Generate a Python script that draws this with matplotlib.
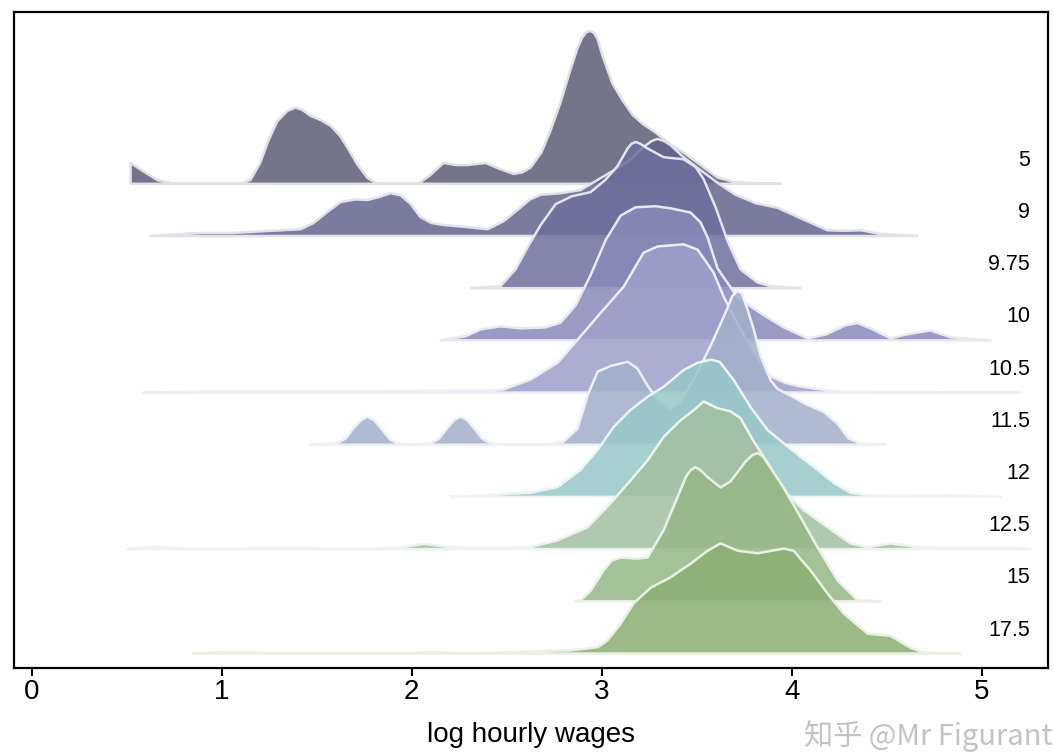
import matplotlib
matplotlib.use("Agg")
import matplotlib.pyplot as plt
import matplotlib.colors as mcolors
import numpy as np

plt.rcParams['font.family'] = ['Liberation Sans', 'DejaVu Sans']

# groups (top to bottom) and ridge heights
groups = ["5", "9", "9.75", "10", "10.5", "11.5", "12", "12.5", "15", "17.5"]

x_5 = [0.518, 0.58, 0.66, 0.75, 1.10, 1.15, 1.20, 1.24, 1.29, 1.344, 1.386, 1.42, 1.466, 1.52,
       1.571, 1.62, 1.66, 1.71, 1.765, 1.818, 2.03, 2.09, 2.165, 2.23, 2.292, 2.386, 2.45, 2.534,
       2.58, 2.623, 2.68, 2.728, 2.78, 2.83, 2.87, 2.895, 2.915, 2.935, 2.955, 2.975, 3.002,
       3.054, 3.107, 3.16, 3.213, 3.282, 3.36, 3.428, 3.518, 3.607, 3.70, 3.81, 3.94]
h_5 = [0.40, 0.25, 0.07, 0.0, 0.0, 0.08, 0.40, 0.80, 1.20, 1.40, 1.46, 1.42, 1.30, 1.22,
       1.11, 0.92, 0.69, 0.38, 0.11, 0.0, 0.0, 0.15, 0.40, 0.36, 0.36, 0.40, 0.30, 0.19,
       0.22, 0.31, 0.60, 1.02, 1.55, 2.15, 2.60, 2.80, 2.90, 2.93, 2.90, 2.78, 2.45,
       1.92, 1.60, 1.32, 1.15, 0.98, 0.75, 0.60, 0.36, 0.12, 0.03, 0.01, 0.0]

x_9 = [0.623, 0.886, 1.06, 1.413, 1.481, 1.55, 1.623, 1.70, 1.765, 1.83, 1.886, 1.939, 1.99,
       2.044, 2.10, 2.165, 2.292, 2.397, 2.48, 2.555, 2.62, 2.676, 2.781, 2.886, 2.992, 3.081,
       3.147, 3.213, 3.26, 3.291, 3.325, 3.36, 3.428, 3.518, 3.607, 3.702, 3.807, 3.923, 4.044,
       4.186, 4.281, 4.36, 4.465, 4.66]
h_9 = [0.0, 0.06, 0.06, 0.13, 0.25, 0.45, 0.65, 0.70, 0.69, 0.75, 0.82, 0.78, 0.62,
       0.36, 0.25, 0.21, 0.17, 0.13, 0.28, 0.50, 0.70, 0.79, 0.82, 0.88, 1.11, 1.30,
       1.46, 1.69, 1.82, 1.86, 1.82, 1.74, 1.51, 1.26, 1.02, 0.79, 0.63, 0.54, 0.34,
       0.11, 0.10, 0.11, 0.04, 0.0]

x_975 = [2.307, 2.465, 2.544, 2.61, 2.676, 2.755, 2.839, 2.939, 3.018, 3.081, 3.134, 3.155,
         3.176, 3.20, 3.228, 3.323, 3.428, 3.492, 3.534, 3.597, 3.66, 3.728, 3.818, 3.886,
         4.044]
h_975 = [0.0, 0.04, 0.36, 0.80, 1.21, 1.61, 1.76, 1.84, 2.08, 2.34, 2.68, 2.77,
         2.80, 2.77, 2.70, 2.51, 2.47, 2.32, 2.09, 1.55, 0.90, 0.36, 0.11, 0.04,
         0.0]

x_10 = [2.149, 2.281, 2.36, 2.465, 2.571, 2.702, 2.781, 2.86, 2.939, 3.018, 3.097, 3.176,
        3.282, 3.36, 3.465, 3.518, 3.555, 3.607, 3.713, 3.834, 3.955, 4.081, 4.176, 4.281,
        4.344, 4.413, 4.518, 4.597, 4.728, 4.834, 5.044]
h_10 = [0.0, 0.08, 0.21, 0.27, 0.23, 0.25, 0.34, 0.67, 1.25, 1.92, 2.39, 2.55,
        2.57, 2.53, 2.45, 2.26, 1.97, 1.38, 0.82, 0.52, 0.25, 0.04, 0.11, 0.29,
        0.33, 0.23, 0.04, 0.11, 0.19, 0.06, 0.0]

x_105 = [0.586, 0.90, 1.30, 1.80, 2.20, 2.40, 2.481, 2.623, 2.765, 2.849, 2.976, 3.113,
         3.218, 3.292, 3.428, 3.502, 3.586, 3.639, 3.728, 3.807, 3.876, 3.96, 4.04, 4.15,
         4.24, 4.6, 5.2]
h_105 = [0.0, 0.02, 0.02, 0.02, 0.04, 0.04, 0.06, 0.25, 0.57, 0.92, 1.46, 2.03,
         2.68, 2.80, 2.84, 2.74, 2.30, 1.84, 1.21, 0.73, 0.33, 0.19, 0.12, 0.06,
         0.02, 0.01, 0.0]

x_115 = [1.466, 1.61, 1.65, 1.687, 1.73, 1.765, 1.80, 1.844, 1.88, 1.923, 1.99, 2.097, 2.14,
         2.176, 2.22, 2.255, 2.29, 2.334, 2.37, 2.413, 2.492, 2.702, 2.797, 2.87, 2.923, 2.976,
         3.044, 3.134, 3.186, 3.239, 3.292, 3.36, 3.413, 3.502, 3.571, 3.65, 3.685, 3.713,
         3.735, 3.755, 3.797, 3.834, 3.887, 3.923, 3.992, 4.071, 4.166, 4.239, 4.297, 4.36,
         4.492]
h_115 = [0.0, 0.04, 0.12, 0.30, 0.47, 0.54, 0.47, 0.28, 0.11, 0.03, 0.0, 0.03, 0.11,
         0.28, 0.47, 0.54, 0.47, 0.28, 0.11, 0.03, 0.0, 0.0, 0.06, 0.31, 0.94, 1.40,
         1.51, 1.59, 1.46, 1.13, 0.86, 0.69, 0.82, 1.40, 1.90, 2.54, 2.85, 2.95,
         2.90, 2.70, 2.22, 1.70, 1.23, 1.07, 0.94, 0.78, 0.63, 0.40, 0.12, 0.03,
         0.0]

x_12 = [2.202, 2.397, 2.502, 2.623, 2.765, 2.886, 2.976, 3.06, 3.15, 3.239, 3.323, 3.428,
        3.502, 3.571, 3.618, 3.692, 3.781, 3.871, 3.955, 4.044, 4.134, 4.218, 4.307, 4.397,
        4.57, 4.834, 5.097]
h_12 = [0.0, 0.04, 0.06, 0.08, 0.19, 0.52, 0.90, 1.34, 1.67, 1.92, 2.11, 2.43,
        2.57, 2.63, 2.59, 2.24, 1.72, 1.28, 1.03, 0.77, 0.52, 0.27, 0.08, 0.04,
        0.02, 0.04, 0.0]

x_125 = [0.502, 0.58, 0.66, 0.75, 0.85, 1.05, 1.18, 1.30, 1.42, 1.58, 1.80, 1.95, 2.06,
         2.18, 2.30, 2.45, 2.623, 2.765, 2.923, 3.044, 3.15, 3.239, 3.323, 3.413, 3.481,
         3.534, 3.607, 3.676, 3.728, 3.797, 3.871, 3.955, 4.06, 4.186, 4.307, 4.397, 4.518,
         4.66, 4.886, 5.097, 5.255]
h_125 = [0.0, 0.03, 0.04, 0.02, 0.0, 0.0, 0.02, 0.03, 0.02, 0.0, 0.0, 0.04, 0.10,
         0.05, 0.02, 0.02, 0.04, 0.17, 0.42, 0.88, 1.32, 1.70, 2.15, 2.47, 2.66,
         2.83, 2.70, 2.64, 2.51, 2.07, 1.65, 1.13, 0.75, 0.42, 0.11, 0.04, 0.11,
         0.04, 0.02, 0.03, 0.0]

x_15 = [2.86, 2.886, 2.939, 3.007, 3.05, 3.097, 3.186, 3.239, 3.323, 3.397, 3.44, 3.465,
        3.49, 3.515, 3.555, 3.623, 3.676, 3.755, 3.79, 3.818, 3.845, 3.871, 3.955, 4.044,
        4.134, 4.239, 4.344, 4.465]
h_15 = [0.0, 0.02, 0.20, 0.59, 0.78, 0.84, 0.82, 0.84, 1.36, 2.00, 2.38, 2.51,
        2.57, 2.52, 2.38, 2.18, 2.30, 2.68, 2.80, 2.84, 2.78, 2.64, 2.18, 1.61,
        1.03, 0.40, 0.02, 0.0]

x_175 = [0.85, 0.98, 1.10, 1.25, 1.38, 1.85, 2.10, 2.30, 2.50, 2.623, 2.834, 2.976, 3.028,
         3.097, 3.165, 3.255, 3.36, 3.465, 3.555, 3.623, 3.713, 3.818, 3.955, 4.007, 4.097,
         4.186, 4.27, 4.397, 4.518, 4.623, 4.692, 4.886]
h_175 = [0.0, 0.02, 0.03, 0.01, 0.0, 0.0, 0.02, 0.01, 0.02, 0.04, 0.06, 0.12, 0.25,
         0.57, 0.96, 1.26, 1.46, 1.72, 1.97, 2.11, 1.97, 1.92, 2.01, 1.97, 1.59,
         1.15, 0.77, 0.38, 0.34, 0.11, 0.02, 0.0]

ridges = [(x_5, h_5), (x_9, h_9), (x_975, h_975), (x_10, h_10), (x_105, h_105),
          (x_115, h_115), (x_12, h_12), (x_125, h_125), (x_15, h_15), (x_175, h_175)]

# how each ridge looks on white paper
looks = ["#75758a", "#7b7b9e", "#8585ad", "#9b9bc4", "#adadd2",
         "#b0bcd2", "#a7cfd0", "#b2c9b0", "#a6c197", "#9db986"]
alpha = 0.85


def face(col, a):
    rgb = np.array(mcolors.to_rgb(col))
    rgb = np.clip((rgb - (1 - a)) / a, 0, 1)
    return tuple(rgb) + (a,)


def edge(col):
    rgb = np.array(mcolors.to_rgb(col))
    return tuple(0.22 * rgb + 0.78)


fig = plt.figure(figsize=(10.54, 7.53), dpi=100)
ax = fig.add_axes([0.0133, 0.1129, 0.981, 0.871])

n = len(groups)
for i, (lab, (xs, hs)) in enumerate(zip(groups, ridges)):
    base = n - 1 - i
    xs = np.array(xs)
    hs = np.array(hs)
    ax.fill_between(xs, base, base + hs, facecolor=face(looks[i], alpha),
                    edgecolor=edge(looks[i]), linewidth=1.8, zorder=2 + i,
                    joinstyle='round')
    ax.text(5.255, base + 0.44, lab, ha='right', va='center', fontsize=15.5,
            zorder=30)

ax.set_xlim(-0.093, 5.349)
ax.set_ylim(-0.287, 12.28)
ax.set_xticks(range(6))
ax.set_yticks([])
ax.tick_params(axis='x', direction='out', length=6, width=1.4, labelsize=20, pad=2)
for s in ax.spines.values():
    s.set_linewidth(1.6)
ax.set_xlabel('log hourly wages', fontsize=20, labelpad=12)

fig.text(0.999, 0.022, '知乎 @Mr Figurant', ha='right', va='center', fontsize=21,
         color='#b5b5b5', alpha=0.8, family=['Noto Sans CJK SC', 'DejaVu Sans'])

fig.savefig('out.png', dpi=100)
